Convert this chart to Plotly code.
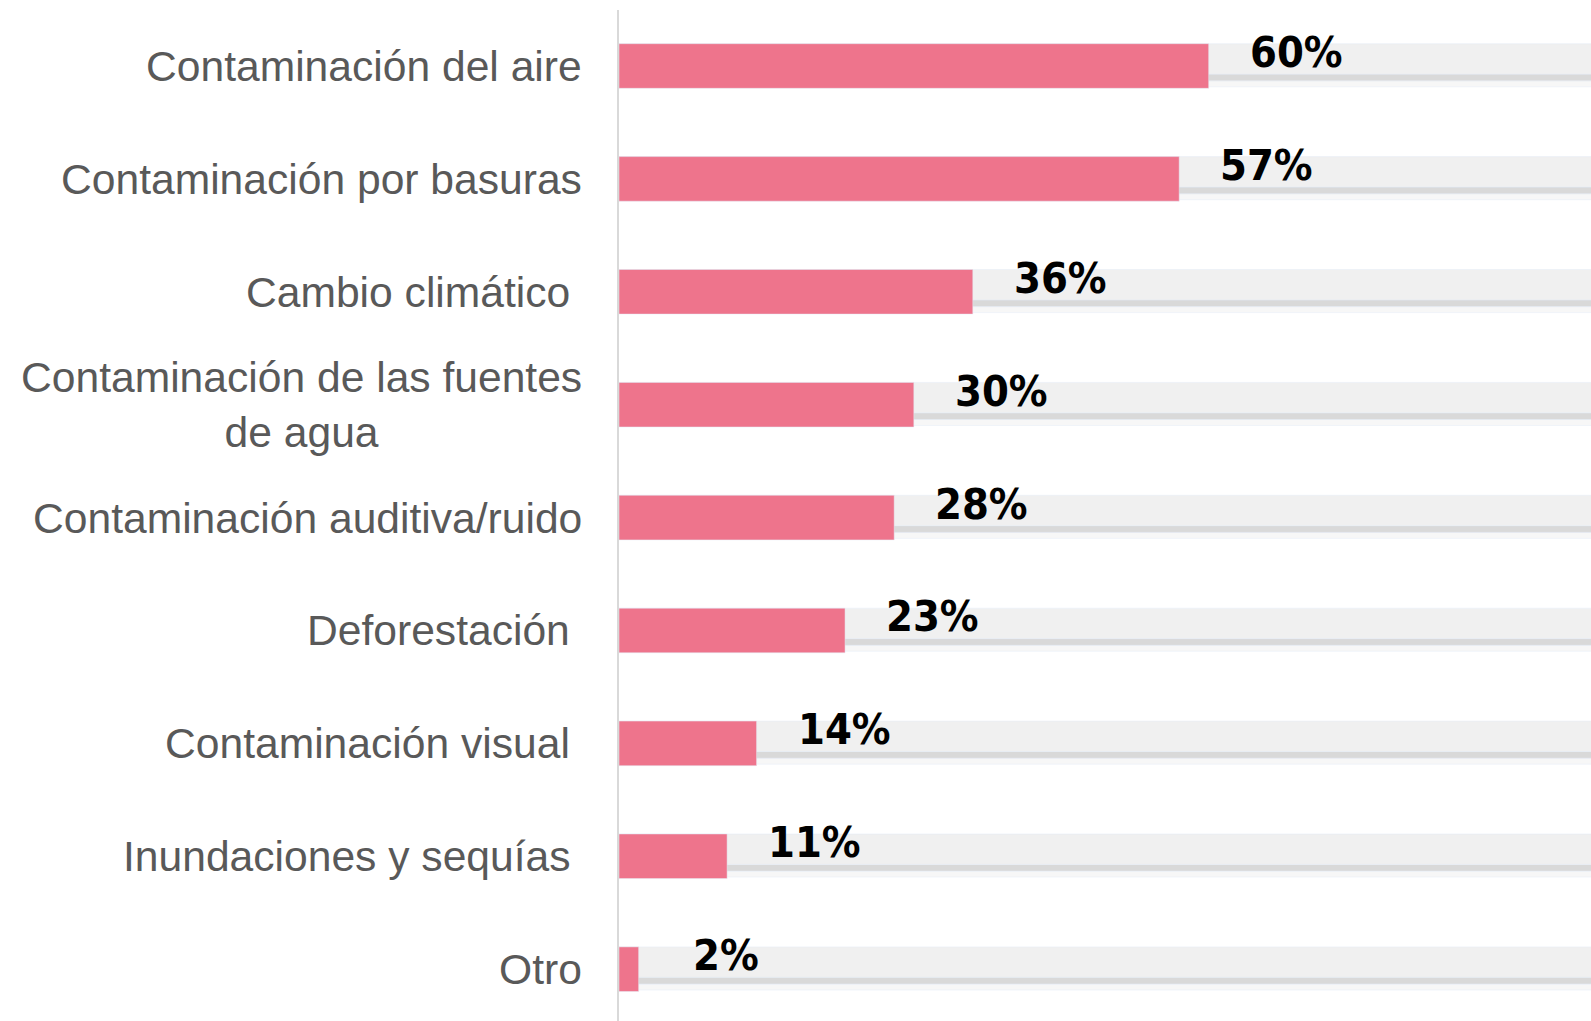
import plotly.graph_objects as go

categories = [
    "Contaminación del aire",
    "Contaminación por basuras",
    "Cambio climático\u00a0",
    "Contaminación de las fuentes<br>de agua",
    "Contaminación auditiva/ruido",
    "Deforestación\u00a0",
    "Contaminación visual\u00a0",
    "Inundaciones y sequías\u00a0",
    "Otro",
]
values = [60, 57, 36, 30, 28, 23, 14, 11, 2]
totals = [100, 100, 100, 100, 100, 100, 100, 100, 100]
value_labels = [f"{v}%" for v in values]

PINK = "#EE748C"
LIGHT = "#F0F0F0"
DARK = "#D9D9D9"
SHADOW = "#F7F7F7"

pos = list(range(len(categories)))
PITCH = 112.9  # px per category

fig = go.Figure()
# background track: light part, darker bottom edge, faint shadow
fig.add_trace(go.Bar(x=totals, y=pos, orientation="h", marker_color=SHADOW,
                     width=6 / PITCH, offset=(-22.3 + 37.1) / PITCH, hoverinfo="skip"))
fig.add_trace(go.Bar(x=totals, y=pos, orientation="h", marker_color=DARK,
                     width=6.7 / PITCH, offset=(-22.3 + 30.4) / PITCH, hoverinfo="skip"))
fig.add_trace(go.Bar(x=totals, y=pos, orientation="h", marker_color=LIGHT,
                     width=30.4 / PITCH, offset=-22.3 / PITCH, hoverinfo="skip"))
# values
fig.add_trace(go.Bar(x=values, y=pos, orientation="h", marker_color=PINK,
                     width=44.6 / PITCH, offset=-22.3 / PITCH))

annotations = []
for i, (c, v, lab) in enumerate(zip(categories, values, value_labels)):
    annotations.append(dict(
        x=0, xref="paper", y=i, yref="y", text=c, showarrow=False,
        xanchor="right", yanchor="middle", align="center", xshift=-35,
        font=dict(family="Liberation Sans, Arial, sans-serif", size=42.6, color="#595959"),
    ))
    annotations.append(dict(
        x=v + 8.9, xref="x", y=i, yref="y", text=lab, showarrow=False,
        xanchor="center", yanchor="middle", yshift=14,
        font=dict(family="Liberation Sans Narrow, DejaVu Sans Condensed, Roboto Condensed, sans-serif",
                  size=43, color="#000000", weight="bold"),
    ))

fig.update_layout(
    width=1591, height=1021,
    margin=dict(l=619, r=0, t=10, b=0),
    paper_bgcolor="white", plot_bgcolor="white",
    barmode="overlay", showlegend=False,
    xaxis=dict(range=[0, 98.9], visible=False, showgrid=False, zeroline=False),
    yaxis=dict(range=[8.459, -0.496], showticklabels=False, showgrid=False, zeroline=False,
               showline=True, linecolor="#D9D9D9", linewidth=2, ticks=""),
    annotations=annotations,
)

fig.write_html(
    "out.html",
    config={"displayModeBar": False},
    post_script="document.body.style.margin='0';document.body.style.overflow='hidden';",
)
